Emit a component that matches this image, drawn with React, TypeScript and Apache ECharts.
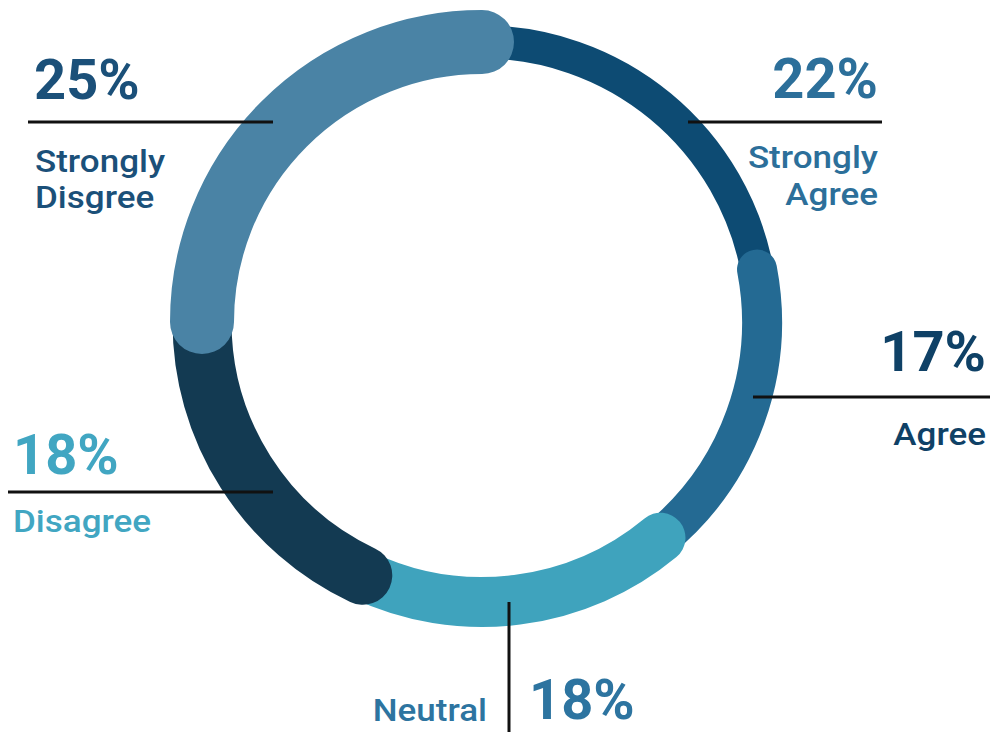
import React, { useEffect, useRef } from "react";
import * as echarts from "echarts";

// ---- data ----
const categories = ["Strongly Agree", "Agree", "Neutral", "Disagree", "Strongly Disagree"];
const percentValues = [22, 17, 18, 18, 25];
const labelLines = [["Strongly", "Agree"], ["Agree"], ["Neutral"], ["Disagree"], ["Strongly", "Disgree"]];

// ---- styles ----
const bandColors = ["#0d4b73", "#246a93", "#3fa3bd", "#133a52", "#4a83a5"];
const bandWidths = [33, 40, 50, 59, 64];
const textColors = ["#2c6f9a", "#0f4166", "#2d74a0", "#41a6c2", "#1b5079"];

const PCT_FONT = "bold 56px Roboto";
const LBL_FONT = "500 31px Roboto";

export default function App() {
  const ref = useRef<HTMLDivElement>(null);

  useEffect(() => {
    if (!ref.current) return;
    const chart = echarts.init(ref.current, null, { renderer: "svg" });

    let acc = 0;
    const segData = percentValues.map((v, i) => {
      const s = acc;
      acc += v;
      return { name: categories[i], value: [s, acc] };
    });

    const pct = (i: number) => percentValues[i] + "%";
    const txt = (
      text: string,
      x: number,
      y: number,
      font: string,
      fill: string,
      align: string,
      sx: number = 1
    ) => ({
      type: "text",
      z: 100,
      x,
      y,
      scaleX: sx,
      style: { text, x: 0, y: 0, font, fill, textAlign: align, textVerticalAlign: "middle" },
    });
    const lbl = (text: string, x: number, y: number, fill: string, align: string) =>
      txt(text, x, y, LBL_FONT, fill, align, 1.13);
    const ln = (x1: number, y1: number, x2: number, y2: number) => ({
      type: "line",
      z: 100,
      shape: { x1, y1, x2, y2 },
      style: { stroke: "#111111", lineWidth: 3 },
    });

    const elements: any[] = [
      // Strongly Disagree (left top)
      txt(pct(4), 34, 80, PCT_FONT, textColors[4], "left"),
      ln(28, 122, 273, 122),
      lbl(labelLines[4][0], 35, 161, textColors[4], "left"),
      lbl(labelLines[4][1], 35, 197, textColors[4], "left"),
      // Strongly Agree (right top)
      txt(pct(0), 878, 79, PCT_FONT, textColors[0], "right"),
      ln(688, 122, 882, 122),
      lbl(labelLines[0][0], 878, 157, textColors[0], "right"),
      lbl(labelLines[0][1], 878, 194, textColors[0], "right"),
      // Agree (right)
      txt(pct(1), 986, 352, PCT_FONT, textColors[1], "right"),
      ln(753, 397, 990, 397),
      lbl(labelLines[1][0], 986, 434, textColors[1], "right"),
      // Disagree (left bottom)
      txt(pct(3), 13, 455, PCT_FONT, textColors[3], "left"),
      ln(8, 492, 273, 492),
      lbl(labelLines[3][0], 13, 521, textColors[3], "left"),
      // Neutral (bottom)
      ln(509, 602, 509, 732),
      lbl(labelLines[2][0], 487, 710, textColors[2], "right"),
      txt(pct(2), 529, 700, PCT_FONT, textColors[2], "left"),
    ];

    chart.setOption({
      animation: false,
      polar: { center: [482, 322], radius: [0, 280] },
      angleAxis: {
        type: "value",
        min: 0,
        max: 100,
        startAngle: 90,
        clockwise: true,
        show: false,
      },
      radiusAxis: { type: "value", min: 0, max: 1, show: false },
      series: [
        {
          type: "custom",
          coordinateSystem: "polar",
          data: segData,
          renderItem: (params: any, api: any) => {
            const idx = params.dataIndex;
            const s = api.value(0);
            const e = api.value(1);
            const c = api.coord([0, s]);
            const p0 = api.coord([1, s]);
            const p1 = api.coord([1, e]);
            const r = Math.hypot(p0[0] - c[0], p0[1] - c[1]);
            const a0 = Math.atan2(p0[1] - c[1], p0[0] - c[0]);
            let a1 = Math.atan2(p1[1] - c[1], p1[0] - c[0]);
            while (a1 <= a0) a1 += Math.PI * 2;
            return {
              type: "arc",
              shape: { cx: c[0], cy: c[1], r, startAngle: a0, endAngle: a1, clockwise: true },
              style: {
                stroke: bandColors[idx],
                lineWidth: bandWidths[idx],
                lineCap: "round",
                fill: "none",
              },
            };
          },
        },
      ],
      graphic: { elements },
    });

    return () => chart.dispose();
  }, []);

  return (
    <div
      ref={ref}
      style={{ position: "fixed", left: 0, top: 0, width: 990, height: 732, background: "#ffffff" }}
    />
  );
}
